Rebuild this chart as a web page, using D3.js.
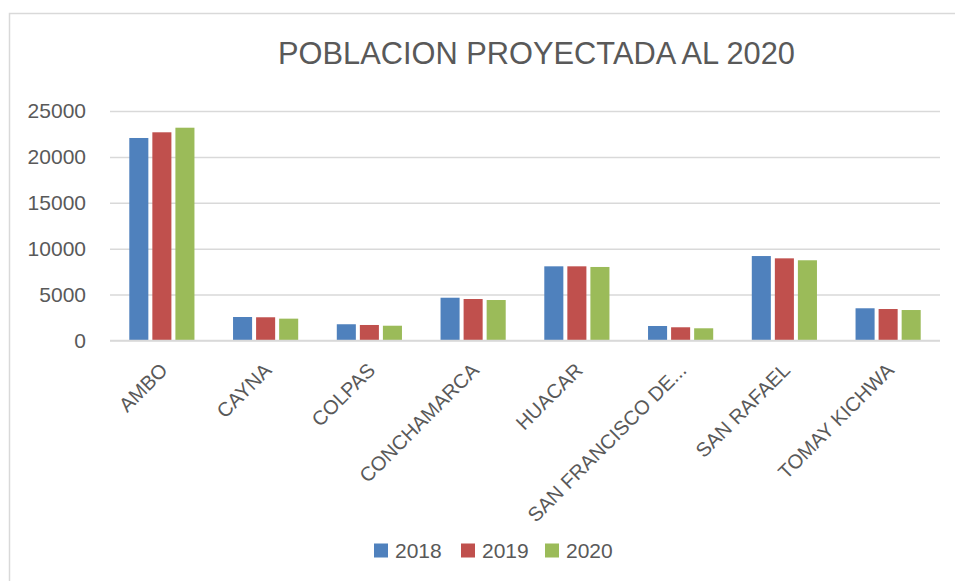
<!DOCTYPE html>
<html>
<head>
<meta charset="utf-8">
<script src="https://cdn.jsdelivr.net/npm/d3@7"></script>
<style>
  html, body { margin: 0; padding: 0; background: #fff; }
  svg { display: block; font-family: "Liberation Sans", Arial, sans-serif; }
</style>
</head>
<body>
<svg id="chart" width="955" height="581"></svg>
<script>
const title = "POBLACION PROYECTADA AL 2020";
const categories = ["AMBO", "CAYNA", "COLPAS", "CONCHAMARCA", "HUACAR", "SAN FRANCISCO DE...", "SAN RAFAEL", "TOMAY KICHWA"];
const seriesNames = ["2018", "2019", "2020"];
const values2018 = [22060, 2560, 1770, 4660, 8080, 1580, 9200, 3510];
const values2019 = [22680, 2530, 1690, 4520, 8080, 1440, 8950, 3430];
const values2020 = [23180, 2380, 1610, 4410, 8010, 1330, 8740, 3320];
const yTicks = [0, 5000, 10000, 15000, 20000, 25000];
const colors = ["#4f81bd", "#c0504d", "#9bbb59"];

const series = [values2018, values2019, values2020];
const textColor = "#595959";
const gridColor = "#d9d9d9";

const svg = d3.select("#chart");

// chart area border
svg.append("rect")
  .attr("x", 9.5).attr("y", 13.5)
  .attr("width", 1000).attr("height", 620)
  .attr("fill", "#fff")
  .attr("stroke", gridColor).attr("stroke-width", 1.5);

const plot = { left: 110, right: 940, top: 111, bottom: 340.5 };

const x = d3.scaleBand().domain(categories).range([plot.left, plot.right]).paddingInner(0).paddingOuter(0);
const xs = d3.scaleBand().domain(seriesNames).range([0, x.bandwidth()]).paddingInner(0).paddingOuter(0.75);
const y = d3.scaleLinear().domain([0, 25000]).range([plot.bottom, plot.top]);

// title
svg.append("text")
  .attr("x", 536.5).attr("y", 64)
  .attr("text-anchor", "middle")
  .attr("font-size", 31)
  .attr("fill", textColor)
  .attr("textLength", 517)
  .attr("lengthAdjust", "spacingAndGlyphs")
  .text(title);

// gridlines + y axis labels
const yAxis = d3.axisLeft(y).tickValues(yTicks).tickSize(-(plot.right - plot.left)).tickPadding(24).tickFormat(d3.format("d"));
const gy = svg.append("g").attr("transform", `translate(${plot.left},0)`).call(yAxis);
gy.select(".domain").remove();
gy.selectAll(".tick line").attr("stroke", gridColor).attr("stroke-width", 1.5);
gy.selectAll(".tick text").attr("fill", textColor).attr("font-size", 21)
  .attr("font-family", "Liberation Sans, Arial, sans-serif");

// bars
const groups = svg.append("g").selectAll("g")
  .data(categories)
  .join("g")
  .attr("transform", d => `translate(${x(d)},0)`);

const inset = 2;
groups.selectAll("rect")
  .data((c, i) => seriesNames.map((s, k) => ({ s, k, v: series[k][i] })))
  .join("rect")
  .attr("x", d => xs(d.s) + inset)
  .attr("width", xs.bandwidth() - 2 * inset)
  .attr("y", d => y(d.v))
  .attr("height", d => y(0) - y(d.v))
  .attr("fill", d => colors[d.k]);

// x axis baseline
svg.append("line")
  .attr("x1", plot.left).attr("x2", plot.right)
  .attr("y1", y(0)).attr("y2", y(0))
  .attr("stroke", gridColor).attr("stroke-width", 1.5);

// category labels rotated
const xAxis = d3.axisBottom(x).tickSize(0).tickPadding(0);
const gx = svg.append("g").attr("transform", `translate(0,${y(0)})`).call(xAxis);
gx.select(".domain").remove();
gx.selectAll(".tick text")
  .attr("fill", textColor)
  .attr("font-size", 20)
  .attr("font-family", "Liberation Sans, Arial, sans-serif")
  .attr("text-anchor", "end")
  .attr("dy", 0)
  .attr("y", 0)
  .attr("transform", "translate(7,31) rotate(-45)");

// legend
const legendX = [374, 461, 545];
const legend = svg.append("g");
seriesNames.forEach((s, k) => {
  legend.append("rect")
    .attr("x", legendX[k]).attr("y", 543.5)
    .attr("width", 14).attr("height", 14)
    .attr("fill", colors[k]);
  legend.append("text")
    .attr("x", legendX[k] + 21).attr("y", 558)
    .attr("font-size", 21)
    .attr("fill", textColor)
    .text(s);
});
</script>
</body>
</html>
